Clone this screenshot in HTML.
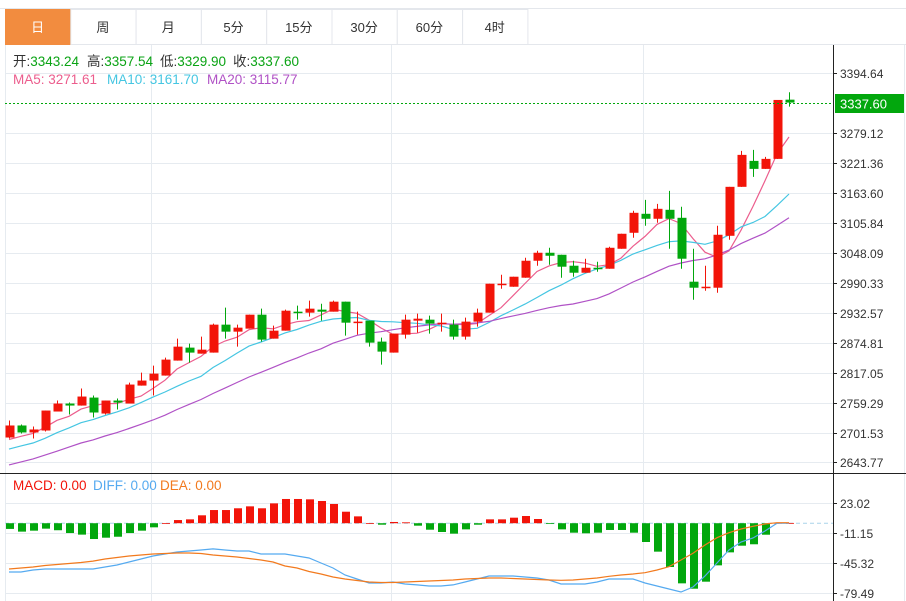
<!DOCTYPE html>
<html><head><meta charset="utf-8"><style>
body{margin:0;background:#fff;width:906px;height:601px;overflow:hidden;font-family:"Liberation Sans","Noto Sans CJK SC",sans-serif}
svg{position:absolute;left:0;top:0}
</style></head><body>
<svg id="c" width="906" height="601" xmlns="http://www.w3.org/2000/svg"></svg>
<script>
const opens=[2691.9,2715.1,2701.6,2705.4,2742,2757.4,2753.5,2768.9,2738.1,2763.2,2757.4,2792,2801.7,2811.3,2840.2,2865.2,2853.6,2855.6,2909.5,2896,2901.8,2928.7,2882.5,2897.9,2934.5,2932.6,2938.4,2934.5,2953.8,2913.3,2917.2,2876.8,2855.6,2890.2,2917.2,2919.1,2911.4,2909.5,2886.4,2915.3,2932.6,2986.5,2982.6,3000,3032.7,3048.1,3044.2,3023.1,3009.6,3019.2,3017.3,3055.8,3086.6,3123.2,3113.6,3130.9,3115.5,2992.3,2980.7,2980.7,3080.8,3175.2,3225.2,3209.8,3229.1,3343.24];
const highs=[2724.7,2717,2713.2,2743.9,2763.2,2759.3,2786.3,2772.8,2763.2,2767,2797.8,2817.1,2830.5,2845.9,2882.5,2872.9,2886.4,2911.4,2942.2,2909.5,2928.7,2940.3,2907.6,2938.4,2946.1,2955.7,2949.9,2955.7,2953.8,2934.5,2917.2,2884.5,2892.2,2928.7,2930.7,2926.8,2930.7,2919.1,2923,2940.3,2988.4,3005.8,3001.9,3038.5,3052,3057.7,3044.2,3032.7,3036.6,3030.8,3059.7,3084.7,3129,3150.1,3142.4,3167.5,3136.7,3055.8,3023.1,3100.1,3175.2,3244.5,3246.4,3232.9,3342.7,3357.54];
const lows=[2690,2699.6,2690,2703.5,2742,2736.2,2753.5,2730.4,2736.2,2745.8,2757.4,2792,2772.8,2811.3,2840.2,2836.3,2853.6,2855.6,2882.5,2867.1,2901.8,2876.8,2882.5,2897.9,2919.1,2924.9,2917.2,2934.5,2888.3,2890.2,2867.1,2832.4,2855.6,2882.5,2894.1,2892.2,2896,2880.6,2880.6,2905.6,2932.6,2978.8,2982.6,3000,3023.1,3025,3000,3001.9,3009.6,3011.5,3017.3,3055.8,3077,3100.1,3105.9,3055.8,3017.3,2957.6,2974.9,2971.1,3073.1,3175.2,3194.4,3209.8,3229.1,3329.9];
const closes=[2715.1,2701.6,2707.4,2743.9,2757.4,2753.5,2770.9,2740.1,2763.2,2759.3,2794,2801.7,2815.1,2842.1,2867.1,2855.6,2861.3,2909.5,2896,2903.7,2928.7,2880.6,2897.9,2936.4,2932.6,2940.3,2934.5,2953.8,2913.3,2915.3,2874.8,2857.5,2892.2,2919.1,2921,2911.4,2913.3,2886.4,2915.3,2932.6,2988.4,2988.4,3001.9,3032.7,3048.1,3042.3,3021.2,3009.6,3019.2,3017.3,3057.7,3084.7,3125.1,3113.6,3132.8,3113.6,3036.6,2980.7,2982.6,3082.8,3175.2,3236.8,3209.8,3229.1,3342.7,3337.6];
const priorCloses=[2585,2590,2600,2605,2598,2610,2620,2615,2628,2635,2640,2650,2655,2648,2662,2670,2680,2685,2690];
const priceTicks=["3394.64","3279.12","3221.36","3163.60","3105.84","3048.09","2990.33","2932.57","2874.81","2817.05","2759.29","2701.53","2643.77"];
const macdHist=[-6.5,-9.6,-8.5,-6.2,-8,-11.2,-13,-18,-16.5,-15.4,-11.2,-8.5,-4.7,0,3.6,4.4,9,15,15,17,19.2,17,22.6,27.6,27.6,27.2,25.3,21.9,13.1,7.8,0,-1.7,1.4,1,-2.8,-7.4,-10,-11.9,-7,-1.7,4.4,4.4,6.3,8.2,4.8,-0.3,-7,-10.8,-11.5,-10.8,-7.7,-7.7,-10.8,-21.4,-32.4,-49.9,-68.5,-74.6,-66.6,-48,-33.2,-25.6,-24,-13.1,0.4,0.3];
const diffVals=[-55.6,-55.6,-53.3,-52.2,-52.2,-52.2,-52.2,-52.2,-49.9,-47.6,-44.2,-40.8,-37.4,-35.1,-32.8,-31.6,-30.5,-29.3,-30.5,-31.6,-31.6,-35.1,-35.1,-35.1,-37.4,-39.6,-45.3,-51,-59,-63.5,-68.1,-68.1,-67,-69.2,-70.3,-71.5,-71.5,-70.3,-67,-63.5,-60.1,-60.1,-60.1,-61.3,-62.4,-64.7,-69.2,-69.2,-69.2,-67,-63.5,-63.5,-63.5,-68.1,-71.5,-74.9,-78.4,-72.7,-60.1,-45.3,-30.5,-21.4,-16.9,-8.9,0,0];
const deaVals=[-52.2,-51,-49.9,-48.2,-47,-45.9,-44.8,-43.1,-40.8,-39.1,-37.4,-36.2,-35.1,-34.5,-33.9,-33.9,-34.5,-36.2,-37.4,-38.5,-40.2,-41.9,-44.2,-48.7,-51,-55,-57.9,-61.3,-63.5,-65.3,-67,-67.5,-67.5,-67,-66.4,-65.8,-65.3,-64.7,-63.5,-63,-62.4,-62.4,-63,-63.5,-64.1,-64.7,-65,-64.7,-63.5,-62.4,-60.5,-59,-57.9,-56.4,-53.3,-49.5,-41.9,-34.3,-24.8,-16.5,-10.8,-6.6,-3.5,-0.9,0.6,0.6];
const macdTicks=["23.02","-11.15","-45.32","-79.49"];
const macdTickVals=[23.02,-11.15,-45.32,-79.49];

const NS="http://www.w3.org/2000/svg",svg=document.getElementById('c');
function mk(t,a,p){const e=document.createElementNS(NS,t);for(const k in a)e.setAttribute(k,a[k]);(p||svg).appendChild(e);return e;}
const xOf=i=>9+12*i;
const yP=v=>73+(3394.64-v)/751.87*390;
const yM=v=>503+(23.02-v)/34.17*30;
const RED="#f21409",GRN="#02a70d";

const tabs=["日","周","月","5分","15分","30分","60分","4时"];
mk('line',{x1:0,y1:8.5,x2:906,y2:8.5,stroke:"#e4e7ec"});
tabs.forEach((t,i)=>{const x=5+i*65.3;
 const g=mk('g',{});
 
 
 mk('rect',{x:x+0.5,y:9.5,width:65.3,height:35,fill:i==0?"#f28c3f":"#fff",stroke:i==0?"#f28c3f":"#e4e7ec"},g);
 const tx=mk('text',{x:x+32.6,y:32,"text-anchor":"middle","font-size":13,fill:i==0?"#fff":"#333"},g);tx.textContent=t;});
mk('line',{x1:527,y1:44.5,x2:906,y2:44.5,stroke:"#e4e7ec"});

const grid=mk('g',{});
priceTicks.forEach(t=>{const y=Math.round(yP(+t))+0.5;mk('line',{x1:5,y1:y,x2:833,y2:y,stroke:"#e6ebf0"},grid);});
macdTickVals.forEach(v=>{const y=Math.round(yM(v))+0.5;mk('line',{x1:5,y1:y,x2:833,y2:y,stroke:"#e6ebf0"},grid);});
[151,391,643].forEach(x=>mk('line',{x1:x+0.5,y1:45,x2:x+0.5,y2:601,stroke:"#e6ebf0"},grid));
mk('line',{x1:5.5,y1:45,x2:5.5,y2:601,stroke:"#e6ebf0"},grid);
mk('line',{x1:904.5,y1:45,x2:904.5,y2:601,stroke:"#e6ebf0"},grid);

mk('line',{x1:833.5,y1:45,x2:833.5,y2:601,stroke:"#222"});
mk('line',{x1:0,y1:473.5,x2:906,y2:473.5,stroke:"#222"});
priceTicks.forEach(t=>{const y=Math.round(yP(+t))+0.5;mk('line',{x1:833,y1:y,x2:837,y2:y,stroke:"#222"});
 const e=mk('text',{x:840,y:y+4.5,"font-size":12,fill:"#333"});e.textContent=t;});
macdTicks.forEach((t,i)=>{const y=Math.round(yM(macdTickVals[i]))+0.5;mk('line',{x1:833,y1:y,x2:837,y2:y,stroke:"#222"});
 const e=mk('text',{x:840,y:y+4.5,"font-size":12,fill:"#333"});e.textContent=t;});

function ma(n,i){const all=priorCloses.concat(closes);const j=i+priorCloses.length;let s=0,c=0;for(let k=j-n+1;k<=j;k++){if(k>=0){s+=all[k];c++;}}return s/c;}
[[5,"#ec5d8d","ma5-line"],[10,"#45c6e2","ma10-line"],[20,"#b052c6","ma20-line"]].forEach(([n,col,name])=>{
 const d=closes.map((_,i)=>(i?'L':'M')+xOf(i)+','+yP(ma(n,i)).toFixed(1)).join('');
 const p=mk('path',{d:d,fill:'none',stroke:col,"stroke-width":1.2});});

closes.forEach((c,i)=>{const o=opens[i],up=c>=o,col=up?RED:GRN,x=xOf(i);
 const g=mk('g',{});
 mk('line',{x1:x+0.5,y1:yP(highs[i]),x2:x+0.5,y2:yP(lows[i]),stroke:col},g);
 const t=yP(Math.max(o,c)),b=yP(Math.min(o,c));
 mk('rect',{x:x-3.5,y:t,width:9,height:Math.max(1.5,b-t),fill:col},g);});

mk('line',{x1:5,y1:103.5,x2:833,y2:103.5,stroke:GRN,"stroke-dasharray":"2,2"});
const pl=mk('g',{});
mk('rect',{x:835,y:94,width:69,height:19,fill:GRN},pl);
const pt=mk('text',{x:840,y:108.5,"font-size":13,fill:"#fff"},pl);pt.textContent="3337.60";

const z=yM(0);
mk('line',{x1:5,y1:z,x2:833,y2:z,stroke:"#a9d4ea","stroke-dasharray":"4,3"});
macdHist.forEach((v,i)=>{const y=yM(v),x=xOf(i);
 const r=mk('rect',{x:x-3,y:Math.min(y,z),width:8,height:Math.max(0.8,Math.abs(y-z)),fill:v>=0?RED:GRN});
 });
[[diffVals,"#55aaf0","diff-line"],[deaVals,"#f27a1e","dea-line"]].forEach(([arr,col,name])=>{
 const d=arr.map((v,i)=>(i?'L':'M')+xOf(i)+','+yM(v).toFixed(1)).join('');
 const p=mk('path',{d:d,fill:'none',stroke:col,"stroke-width":1.2});});

function lg(y,parts,name){const t=mk('text',{y:y,"font-size":13.5});
 parts.forEach(([x,s,c])=>{const a={fill:c};if(x!==null)a.x=x;const ts=mk('tspan',a,t);ts.textContent=s;});}
lg(66,[[13,"开:","#333"],[null,"3343.24","#0aa314"],[87,"高:","#333"],[null,"3357.54","#0aa314"],[160,"低:","#333"],[null,"3329.90","#0aa314"],[233,"收:","#333"],[null,"3337.60","#0aa314"]],"ohlc-legend");
lg(84,[[13,"MA5: 3271.61","#ec5d8d"],[107,"MA10: 3161.70","#45c6e2"],[207,"MA20: 3115.77","#b052c6"]],"ma-legend");
lg(490,[[13,"MACD: 0.00","#f21409"],[93,"DIFF: 0.00","#55aaf0"],[160,"DEA: 0.00","#f27a1e"]],"macd-legend");
</script>
</body></html>
